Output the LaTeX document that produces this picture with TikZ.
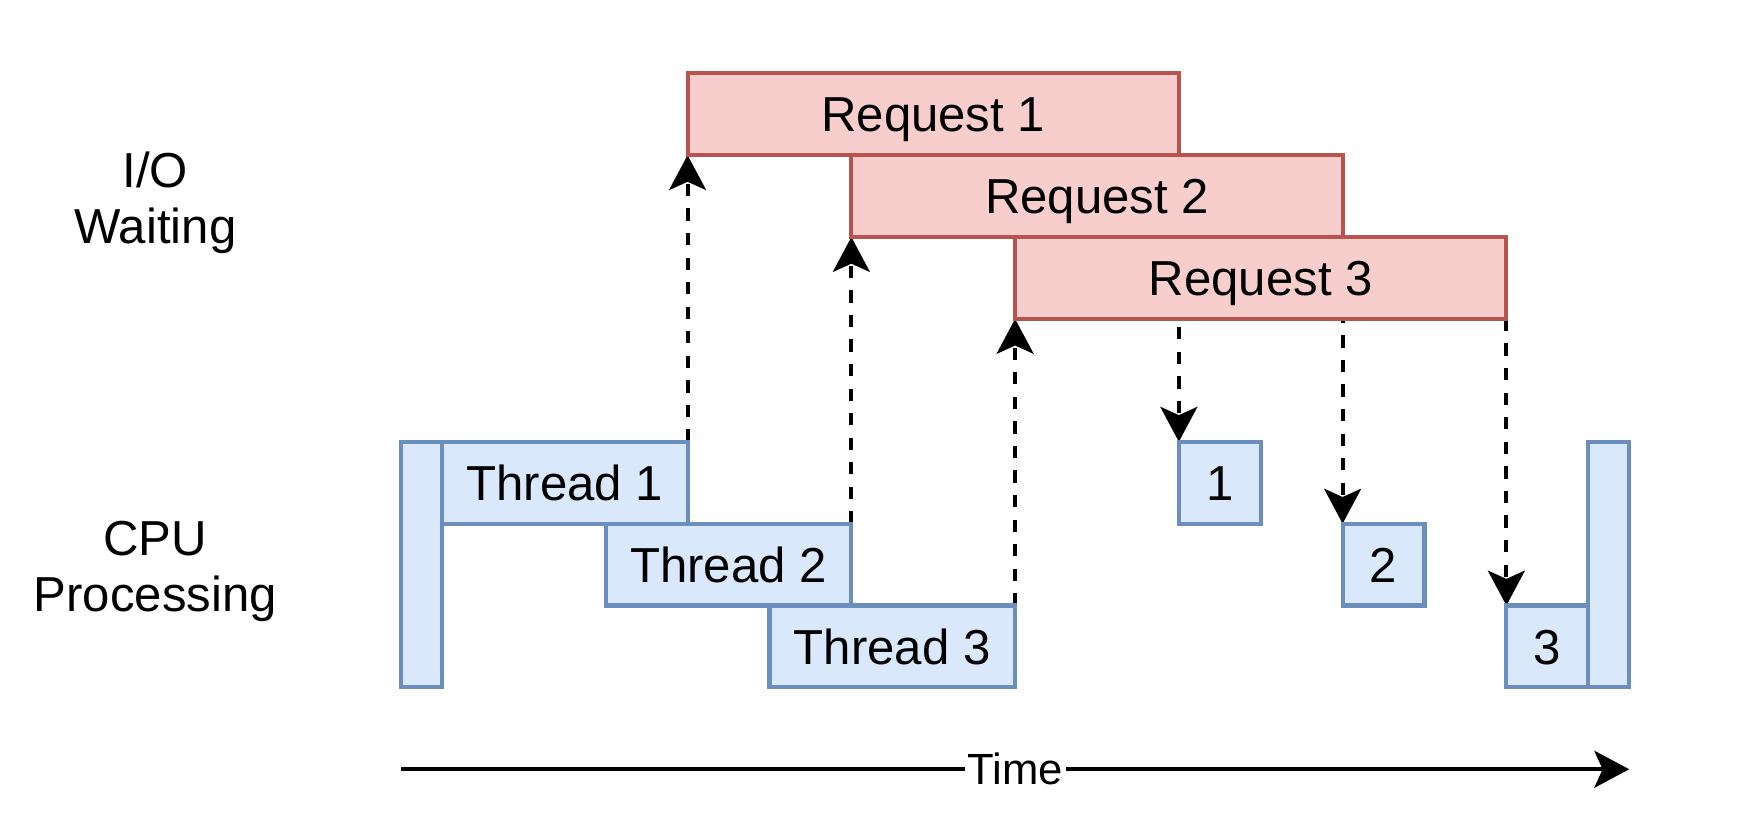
\documentclass[tikz,border=0pt]{standalone}
\usepackage{fontspec}
\setmainfont{Liberation Sans}
\usetikzlibrary{arrows.meta}
\pgfdeclarelayer{bg}
\pgfsetlayers{bg,main}
\definecolor{reqfill}{HTML}{F8CECC}
\definecolor{reqline}{HTML}{B85450}
\definecolor{thrfill}{HTML}{DAE8FC}
\definecolor{thrline}{HTML}{6C8EBF}
\begin{document}
\begin{tikzpicture}[x=0.75pt,y=-0.75pt,
  box/.style={draw, line width=1.5pt, inner sep=0pt, outer sep=0pt, anchor=north west,
    font=\fontsize{18}{21}\selectfont, text height=12.9pt, text depth=0pt},
  req/.style={box, fill=reqfill, draw=reqline, minimum width=180pt, minimum height=30pt},
  thr/.style={box, fill=thrfill, draw=thrline, minimum width=90pt, minimum height=30pt},
  sq/.style={box, fill=thrfill, draw=thrline, minimum width=30pt, minimum height=30pt},
  bar/.style={box, fill=thrfill, draw=thrline, minimum width=15pt, minimum height=90pt},
  lbl/.style={align=center, font=\fontsize{18}{20.6}\selectfont},
  dasharrow/.style={line width=1.5pt, dash pattern=on 4.5pt off 4.5pt, -{Stealth[length=12.75pt,width=13.5pt,inset=3pt]}},
  timearrow/.style={line width=1.5pt, -{Stealth[length=12.75pt,width=13.5pt,inset=3pt]}},
  timelbl/.style={fill=white, inner xsep=1pt, inner ysep=2pt, font=\fontsize{16}{19}\selectfont, text height=11.5pt, text depth=0pt}
]
\useasboundingbox (-195.9,-35.8) rectangle (663.9,370.6);
% requests
\node[req] (r1) at (140,0) {Request 1};
\node[req] (r2) at (220,40) {Request 2};
\node[req] (r3) at (300,80) {Request 3};
% threads
\node[bar] (lbar) at (0,180) {};
\node[thr] (t1) at (20,180) {Thread 1};
\node[thr] (t2) at (100,220) {Thread 2};
\node[thr] (t3) at (180,260) {Thread 3};
\node[sq] (b1) at (380,180) {1};
\node[sq] (b2) at (460,220) {2};
\node[sq] (b3) at (540,260) {3};
\node[bar] (rbar) at (580,180) {};
% labels
\node[lbl] (io) at (-120,63.3) {I/O\\Waiting};
\node[lbl] (cpu) at (-120,243.3) {CPU\\Processing};
% connectors
\begin{pgfonlayer}{bg}
\draw[dasharrow] (t1.north east) -- (r1.south west);
\draw[dasharrow] (t2.north east) -- (r2.south west);
\draw[dasharrow] (t3.north east) -- (r3.south west);
\draw[dasharrow] (r1.south east) -- (b1.north west);
\draw[dasharrow] (r2.south east) -- (b2.north west);
\draw[dasharrow] (r3.south east) -- (b3.north west);
\end{pgfonlayer}
% time axis
\coordinate (tstart) at (0,340);
\coordinate (tend) at (600,340);
\draw[timearrow] (tstart) -- (tend) node[midway, timelbl] (time) {Time};
\end{tikzpicture}
\end{document}
